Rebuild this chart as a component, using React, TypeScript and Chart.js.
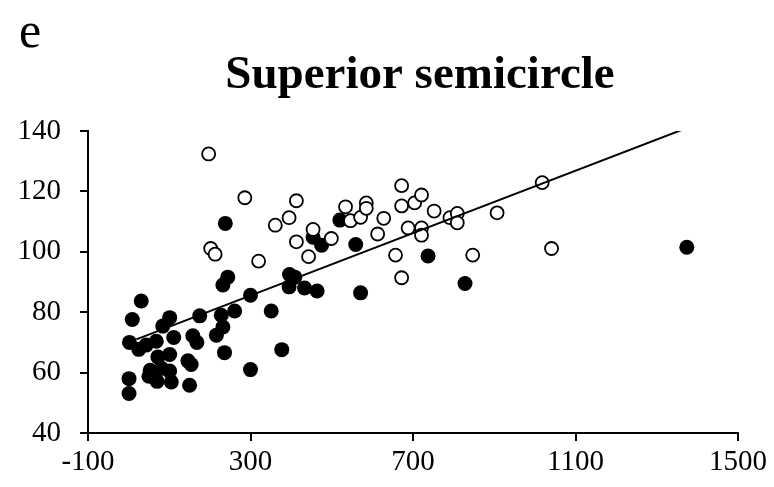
import React, { useEffect, useRef } from "react";
import { Chart, registerables } from "chart.js";

Chart.register(...registerables);

// Filled circles (x, y)
const filledX = [1, 1, 2, 9, 31, 25, 43, 68, 84, 101, 111, 72, 101, 53, 50, 70, 81, 101, 105, 146, 154, 150, 158, 168, 175, 216, 232, 228, 236, 261, 232, 244, 300, 351, 300, 377, 396, 409, 395, 433, 464, 238, 454, 475, 520, 559, 571, 737, 828, 1374];
const filledY = [53.1, 58.0, 70.0, 77.6, 83.7, 67.7, 69.1, 70.4, 75.4, 78.2, 71.6, 65.2, 66.0, 60.8, 58.8, 57.1, 61.4, 60.5, 56.9, 63.9, 62.7, 55.8, 72.2, 70.0, 78.8, 72.4, 75.1, 79.0, 66.6, 80.4, 89.0, 91.6, 85.6, 80.4, 61.0, 67.6, 92.5, 91.6, 88.4, 88.0, 87.0, 109.4, 104.8, 102.2, 110.5, 102.4, 86.4, 98.6, 89.5, 101.5];

// Open circles (x, y)
const openX = [197, 286, 202, 213, 320, 361, 395, 413, 413, 443, 454, 499, 534, 546, 571, 585, 585, 628, 613, 672, 672, 704, 721, 752, 688, 721, 721, 657, 672, 791, 809, 809, 907, 1018, 847, 1041];
const openY = [132.4, 117.9, 101.1, 99.2, 96.9, 108.8, 111.3, 116.9, 103.3, 98.4, 107.4, 104.4, 114.9, 110.3, 111.4, 116.2, 114.4, 111.1, 105.9, 121.9, 115.2, 116.2, 118.8, 113.5, 107.9, 107.9, 105.5, 98.9, 91.4, 111.3, 112.7, 109.6, 112.9, 122.9, 98.9, 101.1];

// Trend line end points
const lineX = [19, 1374];
const lineY = [71.0, 141.0];

// Axis ticks
const xTicks = [-100, 300, 700, 1100, 1500];
const yTicks = [40, 60, 80, 100, 120, 140];

const titleText = "Superior semicircle";
const panelLabel = "e";

const FONT = '"Liberation Serif", "Times New Roman", serif';

export default function App() {
  const ref = useRef<HTMLCanvasElement | null>(null);

  useEffect(() => {
    if (!ref.current) return;
    const textPlugin = {
      id: "textPlugin",
      afterDraw(chart: any) {
        const ctx = chart.ctx;
        ctx.save();
        ctx.fillStyle = "#000";
        ctx.textBaseline = "alphabetic";
        ctx.textAlign = "center";
        ctx.font = `bold 47px ${FONT}`;
        ctx.fillText(titleText, 420, 88);
        ctx.textAlign = "left";
        ctx.font = `50px ${FONT}`;
        ctx.fillText(panelLabel, 19, 47);
        ctx.restore();
      },
    };

    const chart = new Chart(ref.current, {
      type: "scatter",
      data: {
        datasets: [
          {
            type: "line",
            data: lineX.map((x, i) => ({ x, y: lineY[i] })),
            borderColor: "#000",
            borderWidth: 2,
            pointRadius: 0,
            fill: false,
            showLine: true,
          } as any,
          {
            data: openX.map((x, i) => ({ x, y: openY[i] })),
            backgroundColor: "#fff",
            borderColor: "#000",
            borderWidth: 1.8,
            pointRadius: 6.5,
            pointHoverRadius: 6.5,
          },
          {
            data: filledX.map((x, i) => ({ x, y: filledY[i] })),
            backgroundColor: "#000",
            borderColor: "#000",
            borderWidth: 0,
            pointRadius: 7.5,
            pointHoverRadius: 7.5,
          },
        ],
      },
      options: {
        responsive: false,
        animation: false,
        events: [],
        layout: { padding: { top: 131, right: 36, left: 0, bottom: 0 } },
        plugins: {
          legend: { display: false },
          title: { display: false },
          tooltip: { enabled: false },
        },
        scales: {
          x: {
            type: "linear",
            min: -100,
            max: 1500,
            afterBuildTicks: (scale: any) => {
              scale.ticks = xTicks.map((v) => ({ value: v }));
            },
            afterFit: (scale: any) => {
              scale.height = 54;
            },
            grid: {
              display: true,
              drawOnChartArea: false,
              drawTicks: true,
              tickLength: 8,
              color: "#000",
              lineWidth: 2,
            },
            border: { display: true, color: "#000", width: 2 },
            ticks: {
              color: "#000",
              padding: 4,
              maxRotation: 0,
              font: { family: FONT, size: 29 },
              callback: (v: any) => String(v),
            },
          },
          y: {
            type: "linear",
            min: 40,
            max: 140,
            afterBuildTicks: (scale: any) => {
              scale.ticks = yTicks.map((v) => ({ value: v }));
            },
            afterFit: (scale: any) => {
              scale.width = 88;
            },
            grid: {
              display: true,
              drawOnChartArea: false,
              drawTicks: true,
              tickLength: 8,
              color: "#000",
              lineWidth: 2,
            },
            border: { display: true, color: "#000", width: 2 },
            ticks: {
              color: "#000",
              padding: 19,
              font: { family: FONT, size: 29 },
              callback: (v: any) => String(v),
            },
          },
        },
      },
      plugins: [textPlugin],
    });
    return () => chart.destroy();
  }, []);

  return (
    <div style={{ position: "fixed", left: 0, top: 0, width: 774, height: 487, background: "#fff" }}>
      <canvas ref={ref} width={774} height={487} style={{ width: 774, height: 487, display: "block" }} />
    </div>
  );
}
